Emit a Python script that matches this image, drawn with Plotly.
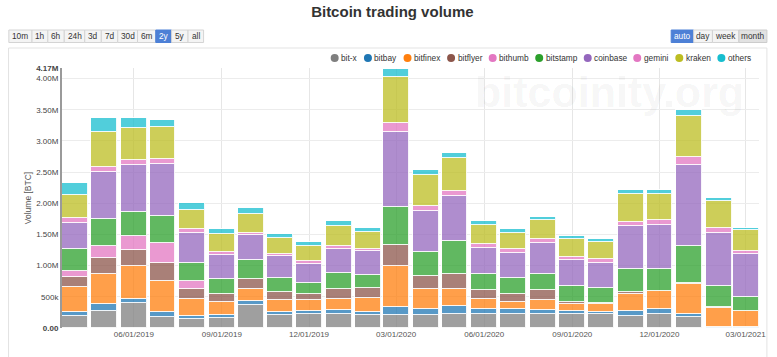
import plotly.graph_objects as go

# ---------------- data (volume in millions of BTC, monthly) ----------------
months = ["2019-04-01", "2019-05-01", "2019-06-01", "2019-07-01", "2019-08-01", "2019-09-01",
          "2019-10-01", "2019-11-01", "2019-12-01", "2020-01-01", "2020-02-01", "2020-03-01",
          "2020-04-01", "2020-05-01", "2020-06-01", "2020-07-01", "2020-08-01", "2020-09-01",
          "2020-10-01", "2020-11-01", "2020-12-01", "2021-01-01", "2021-02-01", "2021-03-01"]

bitx     = [0.20, 0.28, 0.40, 0.18, 0.14, 0.16, 0.37, 0.21, 0.22, 0.23, 0.21, 0.21,
            0.21, 0.23, 0.23, 0.23, 0.23, 0.22, 0.22, 0.20, 0.23, 0.18, 0.00, 0.00]
bitbay   = [0.06, 0.10, 0.07, 0.08, 0.05, 0.05, 0.06, 0.05, 0.06, 0.06, 0.05, 0.13,
            0.09, 0.12, 0.08, 0.07, 0.06, 0.06, 0.04, 0.08, 0.07, 0.05, 0.02, 0.02]
bitfinex = [0.40, 0.49, 0.52, 0.50, 0.27, 0.21, 0.20, 0.19, 0.17, 0.18, 0.22, 0.65,
            0.32, 0.28, 0.15, 0.12, 0.16, 0.11, 0.13, 0.27, 0.29, 0.48, 0.30, 0.25]
bitflyer = [0.16, 0.25, 0.26, 0.29, 0.16, 0.12, 0.16, 0.13, 0.10, 0.16, 0.16, 0.34,
            0.22, 0.24, 0.15, 0.13, 0.16, 0.02, 0.01, 0.02, 0.01, 0.01, 0.01, 0.01]
bithumb  = [0.09, 0.19, 0.22, 0.31, 0.14, 0.00, 0.00, 0.00, 0.00, 0.00, 0.00, 0.00,
            0.00, 0.00, 0.00, 0.00, 0.00, 0.00, 0.00, 0.00, 0.00, 0.00, 0.00, 0.00]
bitstamp = [0.35, 0.44, 0.39, 0.44, 0.28, 0.25, 0.30, 0.23, 0.17, 0.25, 0.21, 0.61,
            0.38, 0.52, 0.26, 0.26, 0.25, 0.27, 0.24, 0.38, 0.34, 0.59, 0.34, 0.22]
coinbase = [0.42, 0.75, 0.75, 0.83, 0.49, 0.38, 0.40, 0.34, 0.31, 0.39, 0.38, 1.20,
            0.66, 0.72, 0.41, 0.39, 0.51, 0.41, 0.40, 0.69, 0.72, 1.31, 0.86, 0.68]
gemini   = [0.09, 0.09, 0.08, 0.08, 0.06, 0.05, 0.04, 0.03, 0.04, 0.04, 0.04, 0.14,
            0.08, 0.08, 0.06, 0.06, 0.05, 0.05, 0.06, 0.06, 0.07, 0.12, 0.08, 0.05]
kraken   = [0.37, 0.56, 0.52, 0.51, 0.31, 0.29, 0.30, 0.26, 0.24, 0.32, 0.27, 0.75,
            0.50, 0.54, 0.32, 0.27, 0.31, 0.28, 0.28, 0.45, 0.42, 0.66, 0.42, 0.34]
others   = [0.19, 0.22, 0.16, 0.12, 0.11, 0.08, 0.10, 0.07, 0.07, 0.08, 0.06, 0.13,
            0.08, 0.08, 0.05, 0.05, 0.05, 0.05, 0.04, 0.07, 0.07, 0.09, 0.05, 0.04]

series_names = ["bit-x", "bitbay", "bitfinex", "bitflyer", "bithumb",
                "bitstamp", "coinbase", "gemini", "kraken", "others"]
series_values = [bitx, bitbay, bitfinex, bitflyer, bithumb,
                 bitstamp, coinbase, gemini, kraken, others]

y_tickvals_m = [0, 0.5, 1.0, 1.5, 2.0, 2.5, 3.0, 3.5, 4.0, 4.17]
y_ticktext = ["<b>0.00</b>", "500k", "1.00M", "1.50M", "2.00M", "2.50M",
              "3.00M", "3.50M", "4.00M", "<b>4.17M</b>"]

range_buttons = ["10m", "1h", "6h", "24h", "3d", "7d", "30d", "6m", "2y", "5y", "all"]
period_buttons = ["auto", "day", "week", "month"]

# ---------------- styles ----------------
colors = ["#7f7f7f", "#1f77b4", "#ff7f0e", "#8c564b", "#e377c2",
          "#2ca02c", "#9467bd", "#e377c2", "#bcbd22", "#17becf"]


def rgba(hexc, a):
    h = hexc.lstrip("#")
    return "rgba(%d,%d,%d,%s)" % (int(h[0:2], 16), int(h[2:4], 16), int(h[4:6], 16), a)


W, H = 777, 357
L, R, T, B = 62, 766, 68, 328


def px(x):
    return (x - L) / (R - L)


def py(y):
    return (B - y) / (B - T)


FONT = "Liberation Sans, Arial, sans-serif"
DAY_MS = 86400000

fig = go.Figure()
for name, vals, col in zip(series_names, series_values, colors):
    fig.add_trace(go.Bar(
        x=months, y=[v * 1e6 for v in vals], name=name,
        width=27 * DAY_MS,
        marker=dict(color=rgba(col, 0.75), line=dict(color="rgba(255,255,255,0.9)", width=1)),
        showlegend=False,
    ))

shapes = []
annotations = []

# outer frame
shapes.append(dict(type="rect", xref="paper", yref="paper",
                   x0=px(8), x1=px(774), y0=py(48), y1=py(362),
                   line=dict(color="#e3e3e3", width=1), fillcolor="rgba(0,0,0,0)", layer="below"))

# watermark
annotations.append(dict(xref="paper", yref="paper", x=px(477), y=py(92), xanchor="left", yanchor="middle",
                        text="<b>bitcoinity.org</b>", showarrow=False,
                        font=dict(family=FONT, size=43, color="rgba(0,0,0,0.05)")))

# manual legend with round markers
legend_x = [337.4, 371, 411, 455, 497, 544, 593, 643, 685.5, 728]
for name, col, cx in zip(series_names, colors, legend_x):
    shapes.append(dict(type="circle", xref="paper", yref="paper",
                       xsizemode="pixel", ysizemode="pixel",
                       xanchor=px(cx), yanchor=py(58),
                       x0=-4, x1=4, y0=-4, y1=4,
                       fillcolor=col, line=dict(width=0)))
    annotations.append(dict(xref="paper", yref="paper", x=px(cx + 4.5), y=py(58),
                            xanchor="left", yanchor="middle", text=name, showarrow=False,
                            font=dict(family=FONT, size=8.3, color="#333")))


# buttons
def button_row(edges, labels, active, pressed=None):
    for i, lab in enumerate(labels):
        x0, x1 = edges[i], edges[i + 1]
        if lab == active:
            fill, tc, lc = "#4d80d6", "white", "#4d80d6"
        elif lab == pressed:
            fill, tc, lc = "#e2e2e2", "#333", "#cccccc"
        else:
            fill, tc, lc = "#f4f4f4", "#333", "#d4d4d4"
        shapes.append(dict(type="rect", xref="paper", yref="paper",
                           x0=px(x0), x1=px(x1), y0=py(42.5), y1=py(30),
                           fillcolor=fill, line=dict(color=lc, width=1)))
        annotations.append(dict(xref="paper", yref="paper", x=px((x0 + x1) / 2), y=py(36.3),
                                xanchor="center", yanchor="middle", text=lab, showarrow=False,
                                font=dict(family=FONT, size=8.3, color=tc)))


button_row([8.3, 31.7, 47.7, 64.3, 85, 101.7, 118.3, 138.3, 156.7, 172.7, 189.3, 205],
           range_buttons, "2y")
button_row([677.3, 700, 719, 745.7, 774], period_buttons, "auto", pressed="month")

fig.update_layout(
    width=W, height=H,
    margin=dict(l=L, r=W - R, t=T, b=H - B, pad=0),
    paper_bgcolor="white", plot_bgcolor="white",
    barmode="stack", bargap=0,
    showlegend=False,
    title=dict(text="<b>Bitcoin trading volume</b>", x=0.505, xanchor="center",
               y=1 - 12 / H, yanchor="middle",
               font=dict(family=FONT, size=15, color="#333")),
    font=dict(family=FONT, size=8, color="#555"),
    shapes=shapes, annotations=annotations,
    xaxis=dict(type="date", range=["2019-03-18", "2021-03-15"],
               tick0="2019-03-01", dtick="M3", tickformat="%m/%d/%Y",
               showgrid=True, gridcolor="#e6e6e6", gridwidth=1,
               showline=False, zeroline=False, ticks="",
               tickfont=dict(family=FONT, size=8, color="#555")),
    yaxis=dict(range=[0, 4.17e6], tickvals=[v * 1e6 for v in y_tickvals_m], ticktext=y_ticktext,
               showgrid=True, gridcolor="#ececec", gridwidth=1,
               showline=True, linecolor="#9a9a9a", linewidth=2, zeroline=False,
               ticks="", tickfont=dict(family=FONT, size=8, color="#444"),
               title=dict(text="Volume [BTC]", standoff=3,
                          font=dict(family=FONT, size=8.5, color="#555"))),
)

fig.write_html("out.html", config={"displayModeBar": False},
               post_script="document.body.style.margin='0px';document.body.style.overflow='hidden';")
